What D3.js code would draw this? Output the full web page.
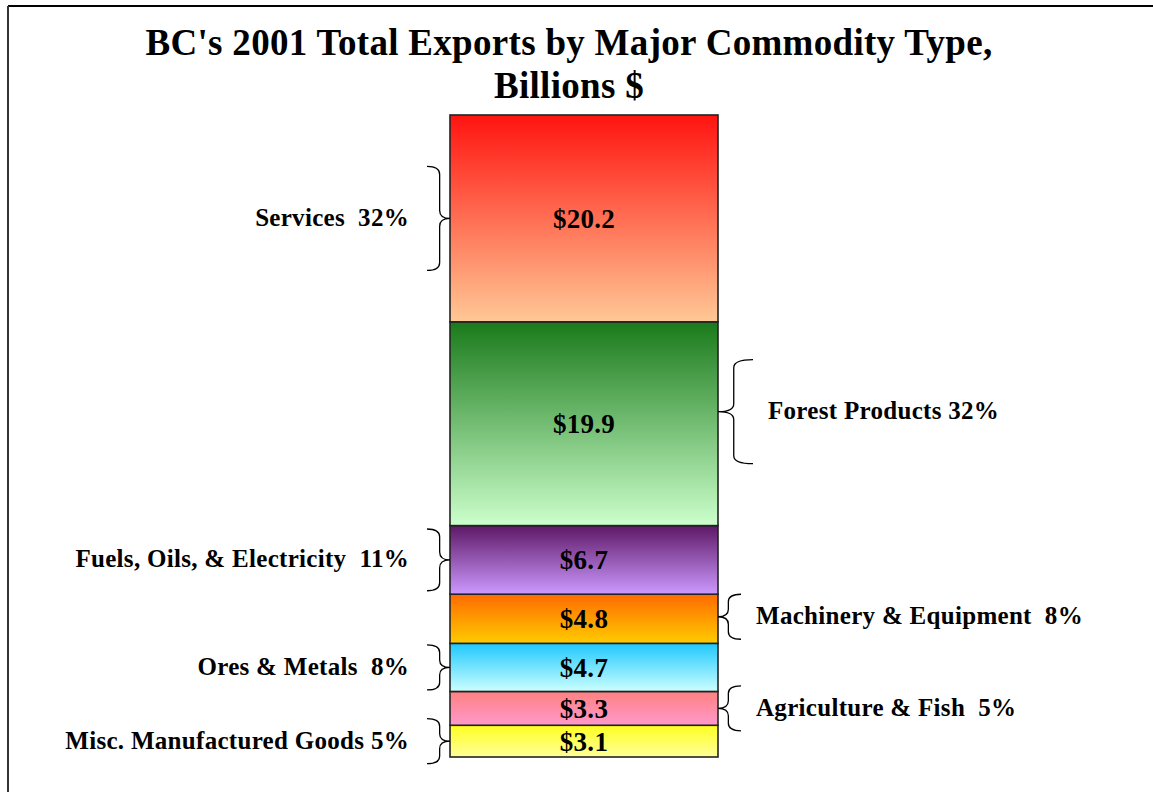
<!DOCTYPE html>
<html>
<head>
<meta charset="utf-8">
<script src="https://cdn.jsdelivr.net/npm/d3@7"></script>
<style>
  html, body { margin: 0; padding: 0; background: #fff; }
  svg { display: block; }
  text { font-family: "Liberation Serif", "Times New Roman", serif; font-weight: bold; fill: #000; }
</style>
</head>
<body>
<svg id="chart" width="1153" height="792"></svg>
<script>
// ---- data (bottom to top) ----
const categories = ["Misc. Manufactured Goods", "Agriculture & Fish", "Ores & Metals",
  "Machinery & Equipment", "Fuels, Oils, & Electricity", "Forest Products", "Services"];
const values = [3.1, 3.3, 4.7, 4.8, 6.7, 19.9, 20.2];
const valueLabels = ["$3.1", "$3.3", "$4.7", "$4.8", "$6.7", "$19.9", "$20.2"];
const percentLabels = ["5%", "5%", "8%", "8%", "11%", "32%", "32%"];
const labelSeparators = [" ", "  ", "  ", "  ", "  ", " ", "  "];
const labelSides = ["left", "right", "left", "right", "left", "right", "left"];
const titleLines = ["BC's 2001 Total Exports by Major Commodity Type,", "Billions $"];

// gradient colours [top, bottom]
const gradTop = ["#ffff22", "#ff8080", "#1ec8ff", "#ff6a00", "#5e1866", "#1a7a1a", "#ff1410"];
const gradBottom = ["#ffff99", "#ff99cc", "#ccffff", "#ffcc00", "#cc99ff", "#ccffcc", "#ffc896"];

// ---- layout ----
const svg = d3.select("#chart");
const barLeft = 450, barRight = 718;
const total = d3.sum(values);
const y = d3.scaleLinear().domain([0, total]).range([757, 115]);
const x = d3.scaleBand().domain(["2001"]).range([barLeft, barRight]).padding(0);

const stacked = [];
let acc = 0;
values.forEach((v, i) => { stacked.push({ i, v, y0: acc, y1: acc + v }); acc += v; });

// frame
svg.append("line").attr("x1", 8).attr("y1", 6).attr("x2", 1153).attr("y2", 6)
  .attr("stroke", "#000").attr("stroke-width", 2);
svg.append("line").attr("x1", 8).attr("y1", 6).attr("x2", 8).attr("y2", 792)
  .attr("stroke", "#333").attr("stroke-width", 2);

// title
svg.append("g").selectAll("text").data(titleLines).join("text")
  .attr("x", 569).attr("y", (d, i) => 55 + i * 43)
  .attr("text-anchor", "middle")
  .style("font-size", "37px").style("letter-spacing", "0.3px")
  .text(d => d);

// gradients
const defs = svg.append("defs");
stacked.forEach(s => {
  const g = defs.append("linearGradient").attr("id", "g" + s.i)
    .attr("x1", 0).attr("y1", 0).attr("x2", 0).attr("y2", 1);
  g.append("stop").attr("offset", "0%").attr("stop-color", gradTop[s.i]);
  g.append("stop").attr("offset", "100%").attr("stop-color", gradBottom[s.i]);
});

// bars
svg.append("g").selectAll("rect").data(stacked).join("rect")
  .attr("x", x("2001"))
  .attr("width", x.bandwidth())
  .attr("y", d => y(d.y1))
  .attr("height", d => y(d.y0) - y(d.y1))
  .attr("fill", d => `url(#g${d.i})`)
  .attr("stroke", "#222").attr("stroke-width", 1.6);

// value labels
svg.append("g").selectAll("text").data(stacked).join("text")
  .attr("x", x("2001") + x.bandwidth() / 2)
  .attr("y", d => (y(d.y0) + y(d.y1)) / 2)
  .attr("dy", "0.35em")
  .attr("text-anchor", "middle")
  .style("font-size", "27px").style("letter-spacing", "0.3px")
  .text(d => valueLabels[d.i]);

// braces + category labels
function bracePath(side, tipX, ym, h, w) {
  const dir = side === "left" ? -1 : 1;
  const xo = tipX + dir * w;
  const xs = tipX + dir * w * 0.45;
  const y0 = ym - h / 2, y1 = ym + h / 2, r = Math.min(8, h / 6);
  return `M${xo},${y0} Q${xs},${y0} ${xs},${y0 + r} L${xs},${ym - r} Q${xs},${ym} ${tipX},${ym}` +
         ` Q${xs},${ym} ${xs},${ym + r} L${xs},${y1 - r} Q${xs},${y1} ${xo},${y1}`;
}
const braceShift = { 5: -12, 3: -2 };
const braceWidth = { 5: 35 };
const gl = svg.append("g");
stacked.forEach(s => {
  const side = labelSides[s.i];
  const seg = y(s.y0) - y(s.y1);
  const h = Math.max(45, Math.min(seg * 0.9, 104));
  const ym = (y(s.y0) + y(s.y1)) / 2 + (braceShift[s.i] || 0);
  const w = braceWidth[s.i] || 23;
  const tipX = side === "left" ? barLeft : barRight;
  gl.append("path").attr("d", bracePath(side, tipX, ym, h, w))
    .attr("fill", "none").attr("stroke", "#000").attr("stroke-width", 1.3);
  gl.append("text")
    .attr("x", side === "left" ? tipX - w - 18 : tipX + w + 15)
    .attr("y", ym).attr("dy", "0.3em")
    .attr("text-anchor", side === "left" ? "end" : "start")
    .style("font-size", "25px").style("letter-spacing", "0.3px")
    .style("white-space", "pre")
    .text(categories[s.i] + labelSeparators[s.i] + percentLabels[s.i]);
});
</script>
</body>
</html>
